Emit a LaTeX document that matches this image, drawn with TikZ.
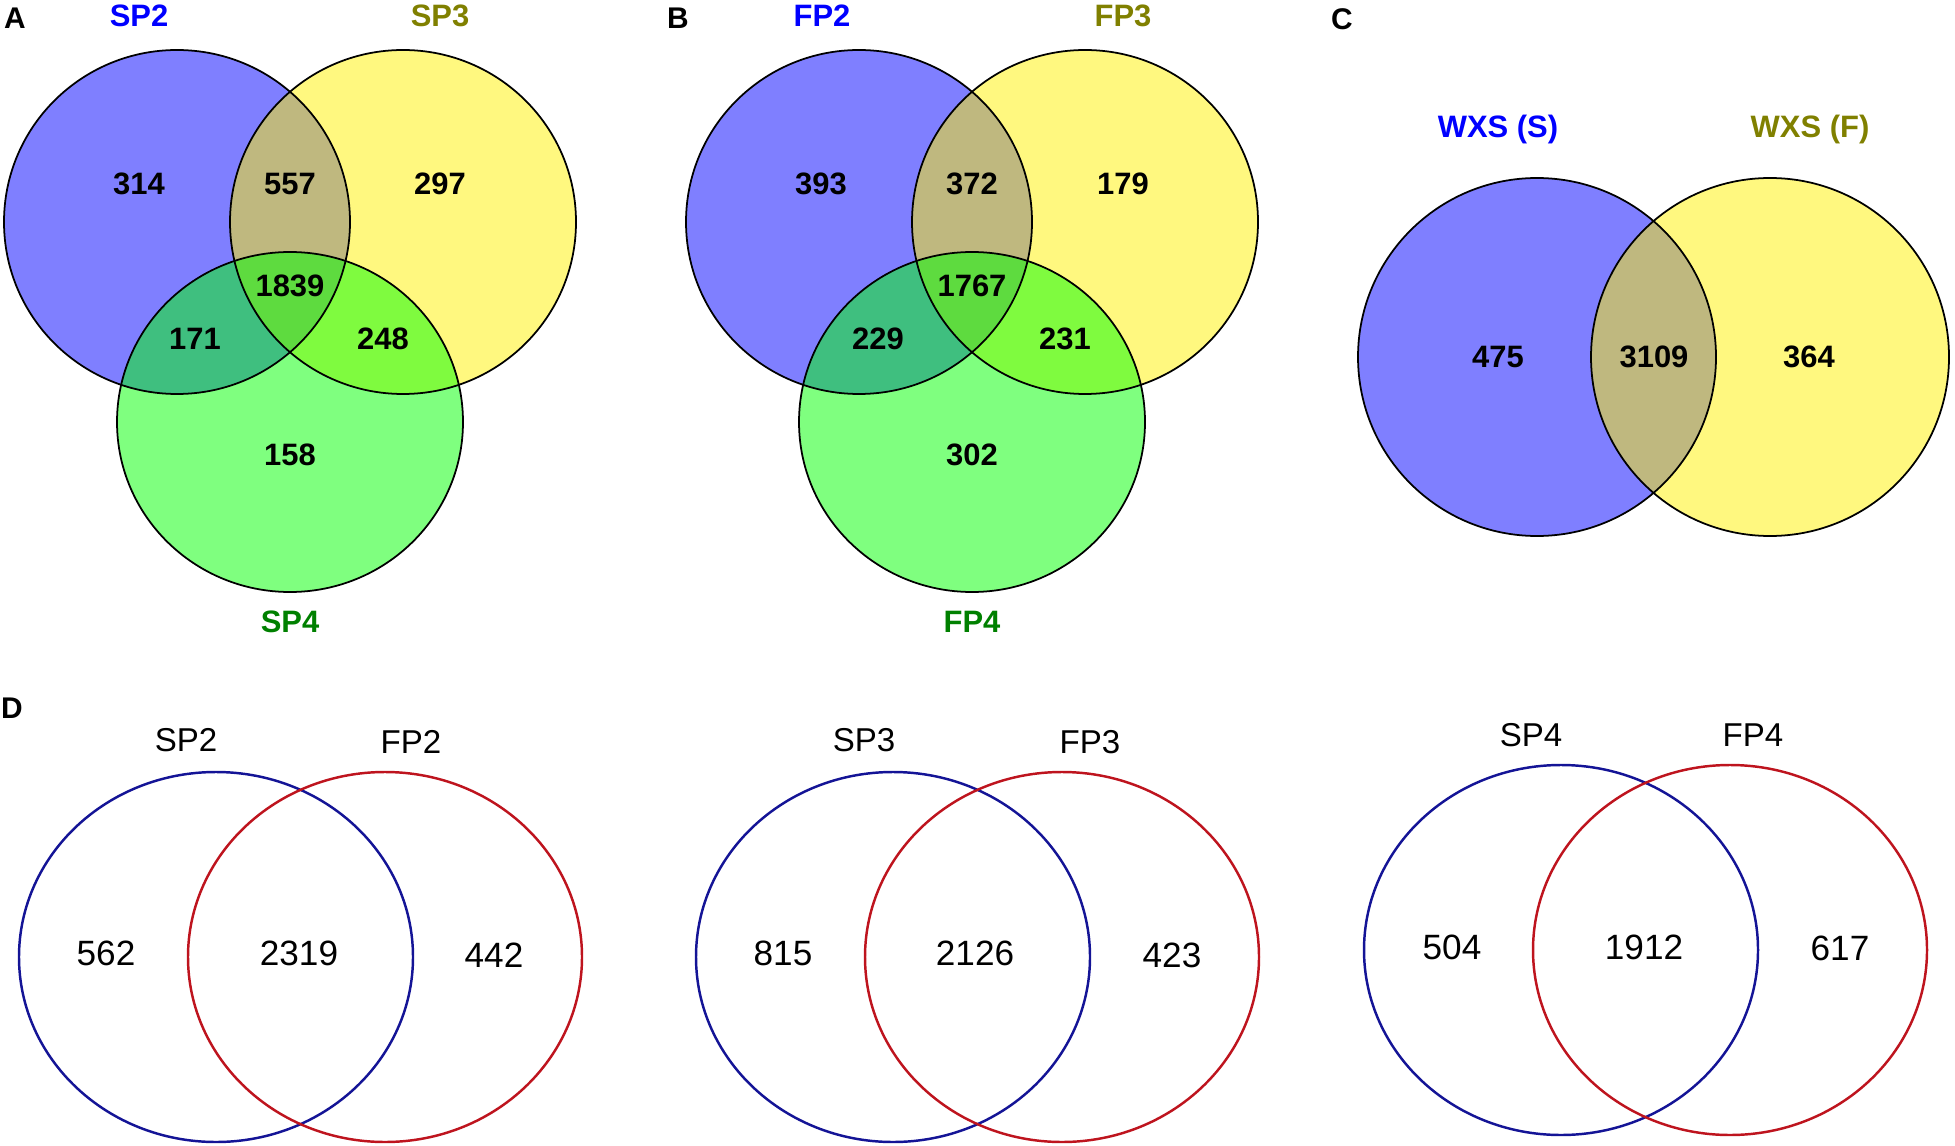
\documentclass[tikz,border=0pt]{standalone}
\usepackage{fontspec}
\setmainfont{Liberation Sans}
\definecolor{setolive}{RGB}{128,128,0}
\definecolor{setgreen}{RGB}{0,128,0}
\definecolor{ringblue}{RGB}{20,20,150}
\definecolor{ringred}{RGB}{190,20,30}
\tikzset{set/.style={fill opacity=0.5},
         rim/.style={draw=black,line width=0.5pt},
         num/.style={font=\fontsize{8.8}{10}\selectfont\bfseries},
         lab/.style={font=\fontsize{8.8}{10}\selectfont\bfseries},
         panel/.style={font=\fontsize{8.5}{10}\selectfont\bfseries},
         dnum/.style={font=\fontsize{10}{12}\selectfont},
         dlab/.style={font=\fontsize{9.4}{11}\selectfont},
         dring/.style={line width=0.7pt}
}

\begin{document}
\begin{tikzpicture}[x=0.01cm,y=-0.01cm]
\useasboundingbox (0,0) rectangle (1955,1146);

% panel A
\begin{scope}
  \fill[set,blue]   (177,222) ellipse [x radius=173,y radius=172];
  \fill[set,yellow] (403,222) ellipse [x radius=173,y radius=172];
  \fill[set,green]  (290,422) ellipse [x radius=173,y radius=170];
  \draw[rim] (177,222) ellipse [x radius=173,y radius=172];
  \draw[rim] (403,222) ellipse [x radius=173,y radius=172];
  \draw[rim] (290,422) ellipse [x radius=173,y radius=170];
  \node[panel] (labA) at (15,18) {A};
  \node[lab,text=blue]     (sp2) at (139,16) {SP2};
  \node[lab,text=setolive] (sp3) at (440,16) {SP3};
  \node[lab,text=setgreen] (sp4) at (290,622) {SP4};
  \node[num] (a2)   at (139,184) {314};
  \node[num] (a23)  at (290,184) {557};
  \node[num] (a3)   at (440,184) {297};
  \node[num] (a234) at (290,286) {1839};
  \node[num] (a24)  at (195,339) {171};
  \node[num] (a34)  at (383,339) {248};
  \node[num] (a4)   at (290,455) {158};
\end{scope}

% panel B
\begin{scope}[shift={(682,0)}]
  \fill[set,blue]   (177,222) ellipse [x radius=173,y radius=172];
  \fill[set,yellow] (403,222) ellipse [x radius=173,y radius=172];
  \fill[set,green]  (290,422) ellipse [x radius=173,y radius=170];
  \draw[rim] (177,222) ellipse [x radius=173,y radius=172];
  \draw[rim] (403,222) ellipse [x radius=173,y radius=172];
  \draw[rim] (290,422) ellipse [x radius=173,y radius=170];
  \node[panel] (labB) at (-4,18) {B};
  \node[lab,text=blue]     (fp2) at (140,16) {FP2};
  \node[lab,text=setolive] (fp3) at (441,16) {FP3};
  \node[lab,text=setgreen] (fp4) at (290,622) {FP4};
  \node[num] (b2)   at (139,184) {393};
  \node[num] (b23)  at (290,184) {372};
  \node[num] (b3)   at (441,184) {179};
  \node[num] (b234) at (290,286) {1767};
  \node[num] (b24)  at (196,339) {229};
  \node[num] (b34)  at (383,339) {231};
  \node[num] (b4)   at (290,455) {302};
\end{scope}

% panel C
\fill[set,blue]   (1537,357) circle [radius=179];
\fill[set,yellow] (1770,357) circle [radius=179];
\draw[rim] (1537,357) circle [radius=179];
\draw[rim] (1770,357) circle [radius=179];
\node[panel] (labC) at (1342,19) {C};
\node[lab,text=blue]     (wxsS) at (1498,130) {WXS (S)};
\node[lab,text=setolive] (wxsF) at (1810,130) {WXS (F)};
\node[num] (cS)  at (1498,357) {475};
\node[num] (cSF) at (1654,357) {3109};
\node[num] (cF)  at (1809,357) {364};

% panel D
\node[panel] (labD) at (12,708) {D};
\begin{scope}
  \draw[dring,ringblue] (216,957) ellipse [x radius=197,y radius=185];
  \draw[dring,ringred]  (385,957) ellipse [x radius=197,y radius=185];
  \node[dlab] (d1s) at (186,740) {SP2};
  \node[dlab] (d1f) at (411,742) {FP2};
  \node[dnum] (d1a) at (106,953) {562};
  \node[dnum] (d1b) at (299,953) {2319};
  \node[dnum] (d1c) at (494,955) {442};
\end{scope}
\begin{scope}[shift={(677,0)}]
  \draw[dring,ringblue] (216,957) ellipse [x radius=197,y radius=185];
  \draw[dring,ringred]  (385,957) ellipse [x radius=197,y radius=185];
  \node[dlab] (d2s) at (187,740) {SP3};
  \node[dlab] (d2f) at (413,742) {FP3};
  \node[dnum] (d2a) at (106,953) {815};
  \node[dnum] (d2b) at (298,953) {2126};
  \node[dnum] (d2c) at (495,955) {423};
\end{scope}
\begin{scope}[shift={(1345,-7)}]
  \draw[dring,ringblue] (216,957) ellipse [x radius=197,y radius=185];
  \draw[dring,ringred]  (385,957) ellipse [x radius=197,y radius=185];
  \node[dlab] (d3s) at (186,742) {SP4};
  \node[dlab] (d3f) at (408,742) {FP4};
  \node[dnum] (d3a) at (107,954) {504};
  \node[dnum] (d3b) at (299,954) {1912};
  \node[dnum] (d3c) at (495,955) {617};
\end{scope}
\end{tikzpicture}
\end{document}
